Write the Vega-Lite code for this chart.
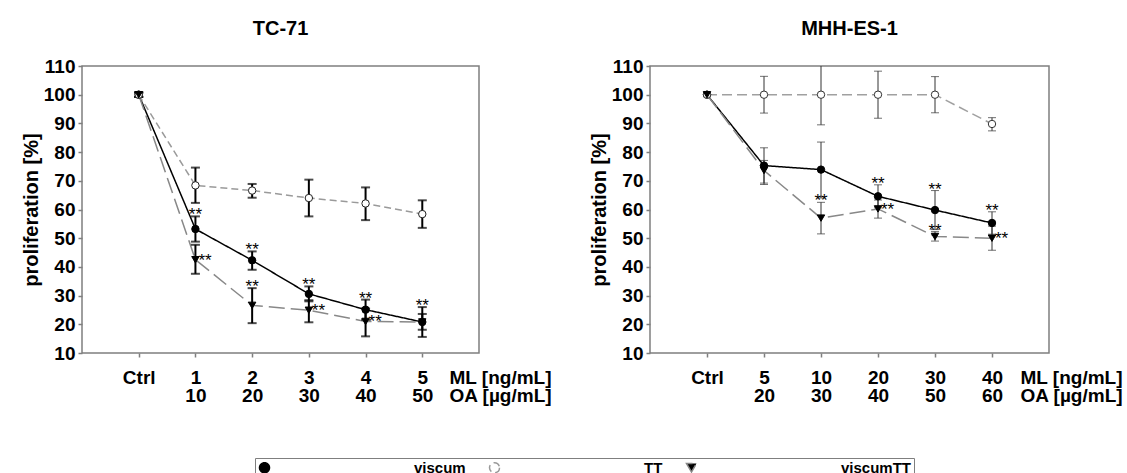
{
  "$schema": "https://vega.github.io/schema/vega-lite/v6.json",
  "padding": {"left": 20, "top": 18, "right": 5, "bottom": 0},
  "background": "white",
  "config": {
    "font": "Liberation Sans",
    "view": {"stroke": "#7f7f7f", "strokeWidth": 1.5},
    "axis": {"grid": false, "domain": false, "tickColor": "#7f7f7f", "tickSize": 4, "tickWidth": 1.5,
      "labelFont": "Liberation Sans", "labelFontWeight": "bold", "labelFontSize": 19, "labelColor": "#000",
      "titleFont": "Liberation Sans", "titleFontSize": 20, "titleFontWeight": "bold", "titleColor": "#000"},
    "title": {"fontSize": 20, "fontWeight": "bold", "offset": 18, "anchor": "middle", "font": "Liberation Sans"}
  },
  "data": {"values": [
    {"panel": "TC-71", "series": "viscum", "idx": 0, "dose": "Ctrl", "mean": 100, "lo": 99.2, "hi": 100.8, "sa": "", "sr": ""},
    {"panel": "TC-71", "series": "viscum", "idx": 1, "dose": "1|10", "mean": 53.2, "lo": 48.8, "hi": 57.6, "sa": "**", "sr": ""},
    {"panel": "TC-71", "series": "viscum", "idx": 2, "dose": "2|20", "mean": 42.3, "lo": 39.0, "hi": 45.4, "sa": "**", "sr": ""},
    {"panel": "TC-71", "series": "viscum", "idx": 3, "dose": "3|30", "mean": 30.6, "lo": 28.0, "hi": 33.2, "sa": "**", "sr": ""},
    {"panel": "TC-71", "series": "viscum", "idx": 4, "dose": "4|40", "mean": 25.1, "lo": 21.6, "hi": 28.6, "sa": "**", "sr": ""},
    {"panel": "TC-71", "series": "viscum", "idx": 5, "dose": "5|50", "mean": 20.8, "lo": 15.6, "hi": 26.0, "sa": "**", "sr": ""},
    {"panel": "TC-71", "series": "TT", "idx": 0, "dose": "Ctrl", "mean": 100, "lo": 99.2, "hi": 100.8, "sa": "", "sr": ""},
    {"panel": "TC-71", "series": "TT", "idx": 1, "dose": "1|10", "mean": 68.4, "lo": 62.3, "hi": 74.6, "sa": "", "sr": ""},
    {"panel": "TC-71", "series": "TT", "idx": 2, "dose": "2|20", "mean": 66.6, "lo": 64.1, "hi": 68.9, "sa": "", "sr": ""},
    {"panel": "TC-71", "series": "TT", "idx": 3, "dose": "3|30", "mean": 64.0, "lo": 57.6, "hi": 70.4, "sa": "", "sr": ""},
    {"panel": "TC-71", "series": "TT", "idx": 4, "dose": "4|40", "mean": 62.1, "lo": 56.3, "hi": 67.7, "sa": "", "sr": ""},
    {"panel": "TC-71", "series": "TT", "idx": 5, "dose": "5|50", "mean": 58.4, "lo": 53.6, "hi": 63.2, "sa": "", "sr": ""},
    {"panel": "TC-71", "series": "viscumTT", "idx": 0, "dose": "Ctrl", "mean": 100, "lo": 99.3, "hi": 100.7, "sa": "", "sr": ""},
    {"panel": "TC-71", "series": "viscumTT", "idx": 1, "dose": "1|10", "mean": 42.5, "lo": 37.6, "hi": 47.7, "sa": "", "sr": "**"},
    {"panel": "TC-71", "series": "viscumTT", "idx": 2, "dose": "2|20", "mean": 26.6, "lo": 20.4, "hi": 32.6, "sa": "**", "sr": ""},
    {"panel": "TC-71", "series": "viscumTT", "idx": 3, "dose": "3|30", "mean": 24.9, "lo": 20.7, "hi": 28.4, "sa": "", "sr": "**"},
    {"panel": "TC-71", "series": "viscumTT", "idx": 4, "dose": "4|40", "mean": 21.0, "lo": 15.8, "hi": 25.5, "sa": "", "sr": "**"},
    {"panel": "TC-71", "series": "viscumTT", "idx": 5, "dose": "5|50", "mean": 20.8, "lo": 18.1, "hi": 23.6, "sa": "", "sr": ""},
    {"panel": "MHH-ES-1", "series": "viscum", "idx": 0, "dose": "Ctrl", "mean": 100, "lo": 99.5, "hi": 100.5, "sa": "", "sr": ""},
    {"panel": "MHH-ES-1", "series": "viscum", "idx": 1, "dose": "5|20", "mean": 75.3, "lo": 69.2, "hi": 81.5, "sa": "", "sr": ""},
    {"panel": "MHH-ES-1", "series": "viscum", "idx": 2, "dose": "10|30", "mean": 73.9, "lo": 64.0, "hi": 83.5, "sa": "", "sr": ""},
    {"panel": "MHH-ES-1", "series": "viscum", "idx": 3, "dose": "20|40", "mean": 64.6, "lo": 60.6, "hi": 68.6, "sa": "**", "sr": ""},
    {"panel": "MHH-ES-1", "series": "viscum", "idx": 4, "dose": "30|50", "mean": 59.8, "lo": 53.0, "hi": 66.6, "sa": "**", "sr": ""},
    {"panel": "MHH-ES-1", "series": "viscum", "idx": 5, "dose": "40|60", "mean": 55.3, "lo": 51.4, "hi": 59.2, "sa": "**", "sr": ""},
    {"panel": "MHH-ES-1", "series": "TT", "idx": 0, "dose": "Ctrl", "mean": 100, "lo": 99.5, "hi": 100.5, "sa": "", "sr": ""},
    {"panel": "MHH-ES-1", "series": "TT", "idx": 1, "dose": "5|20", "mean": 100, "lo": 93.6, "hi": 106.4, "sa": "", "sr": ""},
    {"panel": "MHH-ES-1", "series": "TT", "idx": 2, "dose": "10|30", "mean": 100, "lo": 89.5, "hi": 110.5, "sa": "", "sr": ""},
    {"panel": "MHH-ES-1", "series": "TT", "idx": 3, "dose": "20|40", "mean": 100, "lo": 91.8, "hi": 108.2, "sa": "", "sr": ""},
    {"panel": "MHH-ES-1", "series": "TT", "idx": 4, "dose": "30|50", "mean": 100, "lo": 93.7, "hi": 106.3, "sa": "", "sr": ""},
    {"panel": "MHH-ES-1", "series": "TT", "idx": 5, "dose": "40|60", "mean": 89.8, "lo": 87.4, "hi": 92.0, "sa": "", "sr": ""},
    {"panel": "MHH-ES-1", "series": "viscumTT", "idx": 0, "dose": "Ctrl", "mean": 100, "lo": 99.5, "hi": 100.5, "sa": "", "sr": ""},
    {"panel": "MHH-ES-1", "series": "viscumTT", "idx": 1, "dose": "5|20", "mean": 73.6, "lo": 68.7, "hi": 77.1, "sa": "", "sr": ""},
    {"panel": "MHH-ES-1", "series": "viscumTT", "idx": 2, "dose": "10|30", "mean": 57.0, "lo": 51.5, "hi": 62.5, "sa": "**", "sr": ""},
    {"panel": "MHH-ES-1", "series": "viscumTT", "idx": 3, "dose": "20|40", "mean": 60.2, "lo": 57.0, "hi": 63.3, "sa": "", "sr": "**"},
    {"panel": "MHH-ES-1", "series": "viscumTT", "idx": 4, "dose": "30|50", "mean": 50.6, "lo": 49.0, "hi": 52.3, "sa": "**", "sr": ""},
    {"panel": "MHH-ES-1", "series": "viscumTT", "idx": 5, "dose": "40|60", "mean": 50.0, "lo": 45.8, "hi": 54.2, "sa": "", "sr": "**"}
  ]},
  "bounds": "flush",
  "spacing": 171,
  "resolve": {
    "scale": {"color": "independent", "strokeDash": "independent", "shape": "independent", "fill": "independent", "stroke": "independent"},
    "legend": {"color": "independent", "strokeDash": "independent", "shape": "independent", "fill": "independent", "stroke": "independent"}
  },
  "hconcat": [
    {
      "title": {"text": "TC-71"},
      "width": 397,
      "height": 287,
      "transform": [{"filter": "datum.panel === 'TC-71'"}],
      "encoding": {
        "x": {"field": "dose", "type": "ordinal", "sort": {"field": "idx", "op": "min"},
          "scale": {"type": "point", "padding": 1},
          "axis": {"labelAngle": 0, "labelExpr": "split(datum.label, '|')", "labelLineHeight": 18, "labelPadding": 11, "labelBaseline": "top",
            "title": ["ML [ng/mL]", "OA [µg/mL]"], "titleX": 367, "titleY": 15, "titleAlign": "left", "titleBaseline": "top", "titleLineHeight": 18, "titleFontSize": 19}},
        "y": {"field": "mean", "type": "quantitative", "scale": {"domain": [10, 110]},
          "axis": {"values": [10, 20, 30, 40, 50, 60, 70, 80, 90, 100, 110], "title": "proliferation [%]", "titlePadding": 2, "labelPadding": 3}}
      },
      "layer": [
        {
          "mark": {"type": "line", "strokeWidth": 1.5},
          "encoding": {
            "color": {"field": "series", "type": "nominal",
              "scale": {"domain": ["viscum", "TT", "viscumTT"], "range": ["#000000", "#9a9a9a", "#888888"]},
              "legend": {"orient": "none", "legendX": 173, "legendY": 392, "direction": "horizontal", "title": null,
                "symbolType": "M0,0L24,0", "symbolSize": 100, "symbolStrokeWidth": 1.5,
                "labelFontSize": 15, "labelFontWeight": "bold", "labelColor": "#000", "labelFont": "Liberation Sans",
                "labelOffset": 142, "columnPadding": 20, "padding": 2, "strokeColor": "#7f7f7f", "fillColor": "white"}},
            "strokeDash": {"field": "series", "type": "nominal",
              "scale": {"domain": ["viscum", "TT", "viscumTT"], "range": [[1, 0], [7, 4], [16, 6]]}}
          }
        },
        {
          "mark": {"type": "errorbar", "ticks": {"size": 9, "thickness": 2}, "thickness": 2, "color": "#000000"},
          "encoding": {"y": {"field": "lo", "type": "quantitative"}, "y2": {"field": "hi"}, "detail": {"field": "series"}}
        },
        {
          "mark": {"type": "point", "size": 55, "strokeWidth": 1, "opacity": 1},
          "encoding": {
            "shape": {"field": "series", "type": "nominal", "scale": {"domain": ["viscum", "TT", "viscumTT"], "range": ["circle", "circle", "triangle-down"]}, "legend": null},
            "fill": {"field": "series", "type": "nominal", "scale": {"domain": ["viscum", "TT", "viscumTT"], "range": ["#000000", "#ffffff", "#000000"]}, "legend": null},
            "stroke": {"field": "series", "type": "nominal", "scale": {"domain": ["viscum", "TT", "viscumTT"], "range": ["#000000", "#222222", "#000000"]}, "legend": null}
          }
        },
        {
          "transform": [{"filter": "datum.sa !== ''"}],
          "mark": {"type": "text", "fontSize": 17, "baseline": "alphabetic", "dy": 4, "color": "#000"},
          "encoding": {"y": {"field": "hi", "type": "quantitative"}, "text": {"field": "sa"}}
        },
        {
          "transform": [{"filter": "datum.sr !== ''"}],
          "mark": {"type": "text", "fontSize": 17, "baseline": "alphabetic", "align": "left", "dx": 3, "dy": 6, "color": "#000"},
          "encoding": {"text": {"field": "sr"}}
        }
      ]
    },
    {
      "title": {"text": "MHH-ES-1"},
      "width": 399,
      "height": 287,
      "transform": [{"filter": "datum.panel === 'MHH-ES-1'"}],
      "encoding": {
        "x": {"field": "dose", "type": "ordinal", "sort": {"field": "idx", "op": "min"},
          "scale": {"type": "point", "padding": 1},
          "axis": {"labelAngle": 0, "labelExpr": "split(datum.label, '|')", "labelLineHeight": 18, "labelPadding": 11, "labelBaseline": "top",
            "title": ["ML [ng/mL]", "OA [µg/mL]"], "titleX": 370, "titleY": 15, "titleAlign": "left", "titleBaseline": "top", "titleLineHeight": 18, "titleFontSize": 19}},
        "y": {"field": "mean", "type": "quantitative", "scale": {"domain": [10, 110]},
          "axis": {"values": [10, 20, 30, 40, 50, 60, 70, 80, 90, 100, 110], "title": "proliferation [%]", "titlePadding": 2, "labelPadding": 3}}
      },
      "layer": [
        {
          "mark": {"type": "line", "strokeWidth": 1.5},
          "encoding": {
            "color": {"field": "series", "type": "nominal",
              "scale": {"domain": ["viscum", "TT", "viscumTT"], "range": ["#000000", "#a0a0a0", "#888888"]}, "legend": null},
            "strokeDash": {"field": "series", "type": "nominal",
              "scale": {"domain": ["viscum", "TT", "viscumTT"], "range": [[1, 0], [10, 5], [16, 6]]}, "legend": null}
          }
        },
        {
          "mark": {"type": "errorbar", "ticks": {"size": 8, "thickness": 1}, "thickness": 1, "color": "#333333", "clip": true},
          "encoding": {"y": {"field": "lo", "type": "quantitative"}, "y2": {"field": "hi"}, "detail": {"field": "series"}}
        },
        {
          "mark": {"type": "point", "size": 55, "strokeWidth": 1, "opacity": 1},
          "encoding": {
            "shape": {"field": "series", "type": "nominal", "scale": {"domain": ["viscum", "TT", "viscumTT"], "range": ["circle", "circle", "triangle-down"]},
              "legend": {"orient": "none", "legendX": -395, "legendY": 392, "direction": "horizontal", "title": null,
                "symbolSize": 55, "symbolOffset": 60, "symbolStrokeWidth": 1,
                "labelFontSize": 15, "labelFontWeight": "bold", "labelOpacity": 0, "labelFont": "Liberation Sans",
                "labelOffset": 82, "columnPadding": 20, "padding": 2}},
            "fill": {"field": "series", "type": "nominal", "scale": {"domain": ["viscum", "TT", "viscumTT"], "range": ["#000000", "#ffffff", "#000000"]}},
            "stroke": {"field": "series", "type": "nominal", "scale": {"domain": ["viscum", "TT", "viscumTT"], "range": ["#000000", "#333333", "#000000"]}}
          }
        },
        {
          "transform": [{"filter": "datum.sa !== ''"}],
          "mark": {"type": "text", "fontSize": 17, "baseline": "alphabetic", "dy": 4, "color": "#000"},
          "encoding": {"y": {"field": "hi", "type": "quantitative"}, "text": {"field": "sa"}}
        },
        {
          "transform": [{"filter": "datum.sr !== ''"}],
          "mark": {"type": "text", "fontSize": 17, "baseline": "alphabetic", "align": "left", "dx": 3, "dy": 6, "color": "#000"},
          "encoding": {"text": {"field": "sr"}}
        }
      ]
    }
  ]
}
